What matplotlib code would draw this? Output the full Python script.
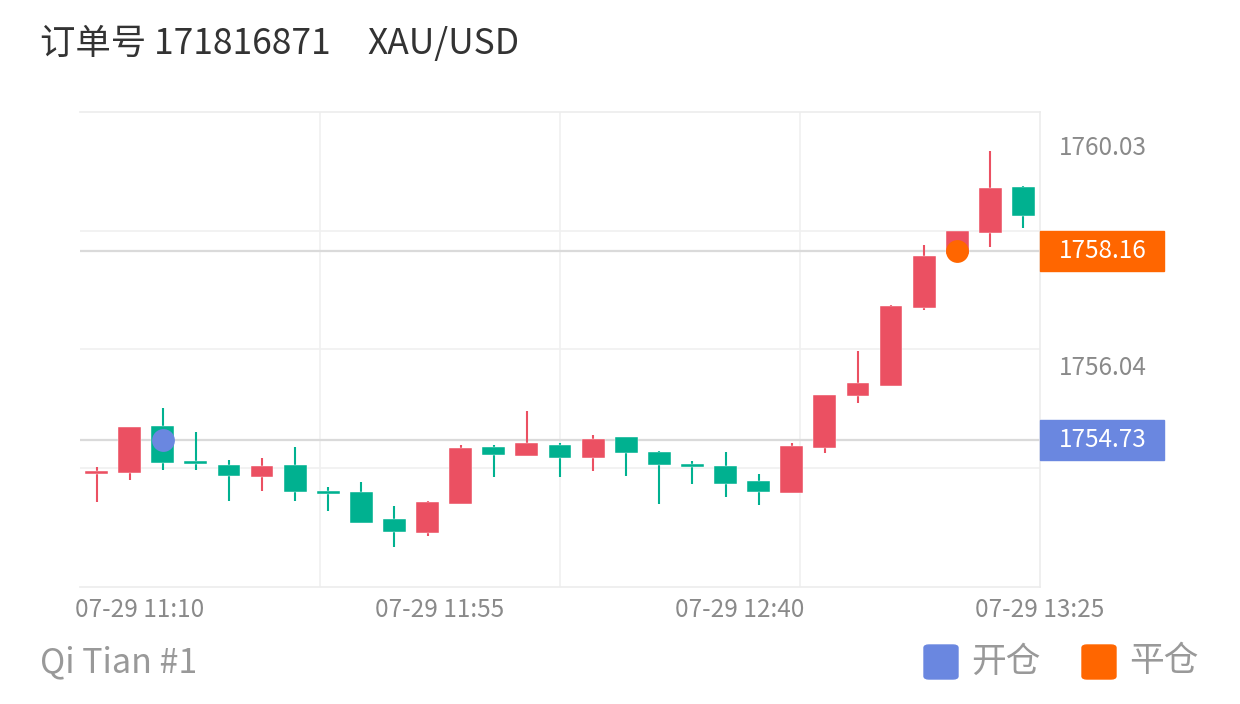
import matplotlib
matplotlib.use('Agg')
import matplotlib.pyplot as plt
from matplotlib.patches import Rectangle, FancyBboxPatch
import numpy as np

plt.rcParams['font.family'] = ['Noto Sans CJK SC', 'DejaVu Sans']

# OHLC of the 5-minute candles
opens = [1754.12, 1754.14, 1754.99, 1754.35, 1754.28, 1754.06, 1754.28, 1753.81, 1753.79, 1753.30,
         1753.05, 1753.57, 1754.61, 1754.44, 1754.64, 1754.41, 1754.79, 1754.52, 1754.30, 1754.26,
         1753.99, 1753.77, 1754.59, 1755.53, 1755.71, 1757.13, 1758.11, 1758.49, 1759.32]
highs = [1754.25, 1754.97, 1755.31, 1754.88, 1754.37, 1754.41, 1754.61, 1753.88, 1753.97, 1753.54,
         1753.63, 1754.64, 1754.64, 1755.26, 1754.68, 1754.83, 1754.79, 1754.54, 1754.35, 1754.52,
         1754.12, 1754.68, 1755.55, 1756.35, 1757.18, 1758.27, 1758.52, 1759.98, 1759.34]
lows = [1753.61, 1754.01, 1754.19, 1754.19, 1753.63, 1753.81, 1753.63, 1753.45, 1753.23, 1752.79,
        1752.99, 1753.57, 1754.06, 1754.44, 1754.06, 1754.17, 1754.08, 1753.57, 1753.94, 1753.70,
        1753.56, 1753.77, 1754.50, 1755.41, 1755.71, 1757.09, 1758.11, 1758.23, 1758.58]
closes = [1754.15, 1754.97, 1754.32, 1754.30, 1754.08, 1754.26, 1753.79, 1753.76, 1753.23, 1753.07,
          1753.61, 1754.59, 1754.46, 1754.68, 1754.41, 1754.75, 1754.50, 1754.28, 1754.25, 1753.94,
          1753.79, 1754.63, 1755.55, 1755.77, 1757.16, 1758.07, 1758.52, 1759.30, 1758.80]

x_labels = ['07-29 11:10', '07-29 11:55', '07-29 12:40', '07-29 13:25']
x_label_pos = [1.31, 10.375, 19.44, 28.5]
y_labels = [1760.03, 1756.04]

open_idx, open_price = 2, 1754.73
close_idx, close_price = 26, 1758.16

RED = '#EB5062'
GREEN = '#00B190'
BLUE = '#6A87E0'
ORANGE = '#FF6600'

fig = plt.figure(figsize=(12.4, 7.04), dpi=100)
W, H = 1240, 704
ax = fig.add_axes([80 / W, 1 - 587 / H, 960 / W, 475 / H])

ylo, yhi = 1752.068, 1760.683
ax.set_xlim(-0.5, len(opens) - 0.5)
ax.set_ylim(ylo, yhi)

# grid
for g in np.linspace(ylo, yhi, 5)[1:-1]:
    ax.axhline(g, color='#f0f0f0', lw=1.2, zorder=0)
for gx in [6.75, 14.0, 21.25]:
    ax.axvline(gx, color='#f0f0f0', lw=1.2, zorder=0)

# candles
for i in range(len(opens)):
    o, h, l, c = opens[i], highs[i], lows[i], closes[i]
    col = RED if c >= o else GREEN
    ax.vlines(i, l, h, color=col, lw=1.5, zorder=2)
    ax.bar(i, max(abs(c - o), 0.05), bottom=min(o, c), width=0.69, color=col,
           edgecolor='#ffffff', linewidth=0.3, zorder=3)

# open / close lines and markers
ax.axhline(open_price, color='#dadada', lw=1.6, zorder=1)
ax.axhline(close_price, color='#dadada', lw=1.6, zorder=1)
ax.scatter([open_idx], [open_price], s=270, color=BLUE, zorder=5, linewidths=0)
ax.scatter([close_idx], [close_price], s=270, color=ORANGE, zorder=5, linewidths=0)

tr = ax.get_yaxis_transform()
for price, col in [(open_price, BLUE), (close_price, ORANGE)]:
    ax.add_patch(Rectangle((1.0, price - 0.3625), 124 / 960, 0.725, transform=tr,
                           color=col, clip_on=False, zorder=5))
    ax.text(1.0 + 63 / 960, price, f'{price:.2f}', transform=tr, ha='center', va='center',
            color='white', fontsize=17.5, zorder=6)

for v in y_labels:
    ax.text(1.0 + 63 / 960, v, f'{v:.2f}', transform=tr, ha='center', va='center',
            color='#8a8a8a', fontsize=17.5)

ax.set_xticks(x_label_pos)
ax.set_xticklabels(x_labels, color='#8a8a8a', fontsize=17.5)
ax.tick_params(axis='x', length=0, pad=7)
ax.set_yticks([])

for s in ['top', 'right', 'bottom']:
    ax.spines[s].set_color('#ececec')
    ax.spines[s].set_linewidth(1.2)
ax.spines['left'].set_visible(False)

# title and footer
fig.text(40 / W, 1 - 44 / H, '订单号 171816871', fontsize=25.5, color='#333333',
         ha='left', va='center')
fig.text(367 / W, 1 - 44 / H, 'XAU/USD', fontsize=25.5, color='#333333',
         ha='left', va='center')
fig.text(40 / W, 1 - 663 / H, 'Qi Tian #1', fontsize=24.5, color='#999999', ha='left', va='center')

# legend
for x0, col, lab in [(924, BLUE, '开仓'), (1082, ORANGE, '平仓')]:
    fig.patches.append(FancyBboxPatch((x0 / W, 1 - 679 / H), 34 / W, 34 / H,
                                      boxstyle='round,pad=0,rounding_size=0.004',
                                      transform=fig.transFigure, color=col))
    fig.text((x0 + 47) / W, 1 - 662 / H, lab, fontsize=25, color='#999999', ha='left', va='center')

fig.savefig('out.png', dpi=100)
